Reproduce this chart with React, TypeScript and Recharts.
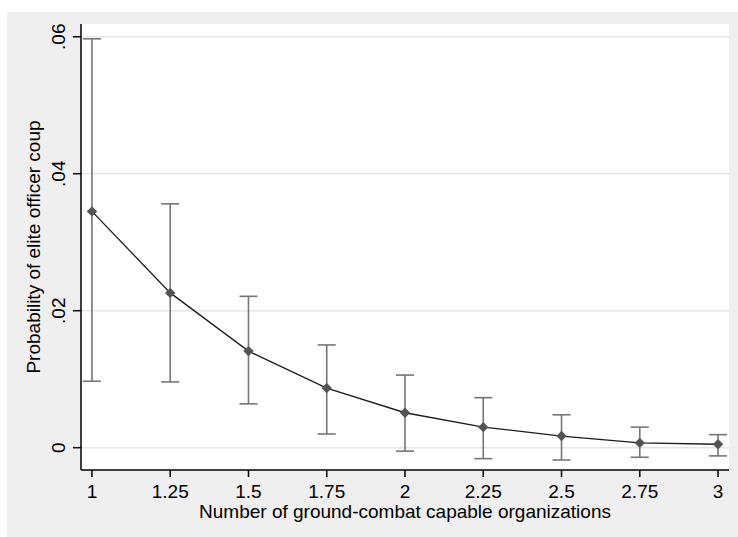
import React from 'react';
import { ComposedChart, Line, ErrorBar, XAxis, YAxis, CartesianGrid } from 'recharts';

// number of ground-combat capable organizations
const orgCounts = [1, 1.25, 1.5, 1.75, 2, 2.25, 2.5, 2.75, 3];
// predicted probability and 95% CI bounds
const probCoup = [0.0345, 0.0226, 0.0141, 0.0087, 0.0051, 0.003, 0.0017, 0.0007, 0.0005];
const ciLower = [0.0097, 0.0096, 0.0064, 0.002, -0.0005, -0.0016, -0.0018, -0.0014, -0.0012];
const ciUpper = [0.0597, 0.0356, 0.0221, 0.015, 0.0106, 0.0073, 0.0048, 0.003, 0.0019];

const xTicks = [1, 1.25, 1.5, 1.75, 2, 2.25, 2.5, 2.75, 3];
const yTicks = [0, 0.02, 0.04, 0.06];
const yTickLabels = ['0', '.02', '.04', '.06'];

const chartData = orgCounts.map((x, i) => ({
  x,
  p: probCoup[i],
  err: [probCoup[i] - ciLower[i], ciUpper[i] - probCoup[i]],
}));

const FONT = '"Liberation Sans", Arial, sans-serif';

const Diamond = (props: any) => {
  const { cx, cy, index } = props;
  if (cx == null || cy == null) return null;
  const r = 5.2;
  return (
    <path
      key={`d-${index}`}
      d={`M${cx},${cy - r} L${cx + r},${cy} L${cx},${cy + r} L${cx - r},${cy} Z`}
      fill="#545454"
    />
  );
};

const YTick = (props: any) => {
  const { x, y, payload } = props;
  const idx = yTicks.indexOf(payload.value);
  const label = idx >= 0 ? yTickLabels[idx] : String(payload.value);
  const bx = x - 8;
  return (
    <text
      x={bx}
      y={y}
      transform={`rotate(-90 ${bx} ${y})`}
      textAnchor="middle"
      fontSize={19}
      fontFamily={FONT}
      fill="#000"
    >
      {label}
    </text>
  );
};

const App: React.FC = () => {
  return (
    <div style={{ position: 'absolute', left: 0, top: 0, width: 738, height: 537, background: '#fff' }}>
      <div style={{ position: 'absolute', left: 7, top: 12, width: 731, height: 525, background: '#efefef' }}>
        <ComposedChart
          width={731}
          height={525}
          data={chartData}
          margin={{ top: 12, right: 9, left: 0, bottom: 0 }}
        >
          <CartesianGrid
            vertical={false}
            horizontalValues={yTicks}
            stroke="#e6e6e6"
            strokeWidth={1.5}
            fill="#ffffff"
            fillOpacity={1}
          />
          <XAxis
            dataKey="x"
            type="number"
            domain={[0.965, 3.035]}
            ticks={xTicks}
            height={67}
            tickSize={7}
            tickMargin={8}
            axisLine={{ stroke: '#000', strokeWidth: 1.5 }}
            tickLine={{ stroke: '#000', strokeWidth: 1.5 }}
            tick={{ fontSize: 19, fontFamily: FONT, fill: '#000' }}
            allowDataOverflow
            label={{
              content: (p: any) => {
                const vb = p.viewBox || { x: 74, y: 458, width: 648 };
                return (
                  <text
                    x={vb.x + vb.width / 2}
                    y={vb.y + 48}
                    textAnchor="middle"
                    fontSize={19}
                    fontFamily={FONT}
                    fill="#000"
                  >
                    Number of ground-combat capable organizations
                  </text>
                );
              },
            }}
          />
          <YAxis
            type="number"
            domain={[-0.00326, 0.06186]}
            ticks={yTicks}
            width={74}
            tickSize={8}
            tickMargin={0}
            axisLine={{ stroke: '#000', strokeWidth: 1.5 }}
            tickLine={{ stroke: '#000', strokeWidth: 1.5 }}
            tick={<YTick />}
            allowDataOverflow
            label={{
              content: (p: any) => {
                const vb = p.viewBox || { x: 0, y: 12, width: 74, height: 446 };
                const cx = 33;
                const cy = vb.y + vb.height / 2;
                return (
                  <text
                    x={cx}
                    y={cy}
                    transform={`rotate(-90 ${cx} ${cy})`}
                    textAnchor="middle"
                    fontSize={19}
                    fontFamily={FONT}
                    fill="#000"
                  >
                    Probability of elite officer coup
                  </text>
                );
              },
            }}
          />
          <Line
            dataKey="p"
            type="linear"
            stroke="#1c1c1c"
            strokeWidth={1.3}
            dot={<Diamond />}
            activeDot={false}
            isAnimationActive={false}
          >
            <ErrorBar dataKey="err" width={9} stroke="#767676" strokeWidth={1.6} direction="y" isAnimationActive={false} />
          </Line>
        </ComposedChart>
      </div>
    </div>
  );
};

export default App;
